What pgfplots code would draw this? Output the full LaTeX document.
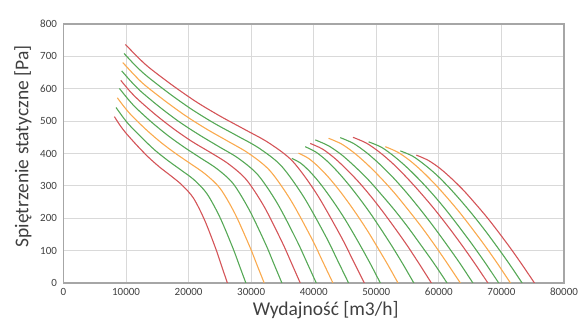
\documentclass[border=0pt]{standalone}
\usepackage{pgfplots}
\pgfplotsset{compat=1.18}
\usepackage{fontspec}
\setmainfont{Carlito}
\definecolor{cR}{RGB}{212,84,88}
\definecolor{cG}{RGB}{86,168,86}
\definecolor{cO}{RGB}{250,170,78}
\definecolor{gridc}{RGB}{217,217,217}
\definecolor{framec}{RGB}{166,166,166}
\definecolor{txt}{RGB}{64,64,64}
\begin{document}
\begin{tikzpicture}[x=1pt,y=1pt]
\path[use as bounding box] (0,0) rectangle (579,329);
\begin{axis}[
  at={(63.5pt,46pt)}, anchor=south west,
  scale only axis, width=500.5pt, height=259pt,
  xmin=0, xmax=80000, ymin=0, ymax=800,
  xtick={0,10000,...,80000}, ytick={0,100,...,800},
  major tick length=0pt,
  scaled x ticks=false,
  /pgf/number format/assume math mode=true,
  xticklabel={\pgfmathprintnumber[fixed,1000 sep={}]{\tick}},
  yticklabel={\pgfmathprintnumber[fixed,1000 sep={}]{\tick}},
  tick label style={font=\fontsize{11}{12}\selectfont, text=txt},
  xticklabel style={yshift=-1.5pt},
  yticklabel style={xshift=-3pt},
  grid=major,
  grid style={gridc, line width=1pt},
  axis line style={framec, line width=1.3pt},
  xlabel={Wydajność [m3/h]},
  ylabel={Spiętrzenie statyczne [Pa]},
  label style={font=\fontsize{19.5}{20}\selectfont, text=txt},
  xlabel style={at={(axis description cs:0.524,0)}, anchor=center, yshift=-27.5pt},
  ylabel style={at={(axis description cs:0,0.527)}, anchor=center, yshift=40.5pt},
  every axis plot/.append style={smooth, line width=1.1pt, no marks},
]
% left family
\addplot[cR] coordinates {(8130,514)(9034,487)(9937,464)(11744,425)(13551,389)(15358,358)(17165,331)(18972,302)(20779,262)(22586,193)(24393,103)(25297,51)(26200,0)};
\addplot[cG] coordinates {(8400,542)(9438,514)(10475,489)(12550,448)(14625,410)(16700,378)(18775,349)(20850,319)(22925,276)(25000,203)(27075,108)(28113,54)(29150,0)};
\addplot[cO] coordinates {(8610,572)(9784,542)(10957,516)(13304,472)(15651,433)(17998,399)(20345,368)(22692,336)(25039,292)(27386,215)(29733,114)(30907,57)(32080,0)};
\addplot[cG] coordinates {(8930,601)(10229,570)(11528,542)(14126,496)(16724,455)(19322,419)(21920,386)(24518,353)(27116,307)(29714,225)(32312,120)(33611,60)(34910,0)};
\addplot[cR] coordinates {(9150,626)(10585,593)(12019,565)(14888,517)(17757,474)(20626,436)(23495,403)(26364,368)(29233,319)(32102,235)(34971,125)(36406,63)(37840,0)};
\addplot[cG] coordinates {(9310,655)(10865,621)(12419,591)(15528,541)(18637,496)(21746,457)(24855,421)(27964,385)(31073,334)(34182,246)(37291,131)(38846,66)(40400,0)};
\addplot[cO] coordinates {(9470,681)(11150,646)(12830,614)(16190,563)(19550,516)(22910,475)(26270,438)(29630,400)(32990,347)(36350,255)(39710,136)(41390,68)(43070,0)};
\addplot[cG] coordinates {(9680,709)(11475,672)(13269,640)(16858,586)(20447,537)(24036,494)(27625,456)(31214,417)(34803,362)(38392,266)(41981,142)(43776,71)(45570,0)};
\addplot[cR] coordinates {(9890,737)(11800,699)(13709,665)(17528,609)(21347,558)(25166,514)(28985,474)(32804,433)(36623,376)(40442,276)(44261,147)(46171,74)(48080,0)};
% right family
\addplot[cG] coordinates {(36510,385)(37923,370)(39336,345)(40749,314)(42162,278)(43575,239)(44988,197)(46401,151)(47814,103)(49227,53)(50640,0)};
\addplot[cO] coordinates {(37570,401)(39160,385)(40750,359)(42340,327)(43930,290)(45520,249)(47110,205)(48700,158)(50290,107)(51880,55)(53470,0)};
\addplot[cG] coordinates {(38640,421)(40376,404)(42112,377)(43848,343)(45584,304)(47320,261)(49056,215)(50792,165)(52528,113)(54264,58)(56000,0)};
\addplot[cR] coordinates {(39440,431)(41376,414)(43312,386)(45248,351)(47184,312)(49120,268)(51056,220)(52992,169)(54928,116)(56864,59)(58800,0)};
\addplot[cG] coordinates {(40240,442)(42347,424)(44454,396)(46561,360)(48668,320)(50775,274)(52882,226)(54989,174)(57096,118)(59203,61)(61310,0)};
\addplot[cO] coordinates {(42370,447)(44477,429)(46584,400)(48691,364)(50798,323)(52905,278)(55012,228)(57119,176)(59226,120)(61333,61)(63440,0)};
\addplot[cG] coordinates {(44240,449)(46360,431)(48480,402)(50600,366)(52720,325)(54840,279)(56960,229)(59080,176)(61200,120)(63320,62)(65440,0)};
\addplot[cR] coordinates {(46270,450)(48427,432)(50584,403)(52741,367)(54898,325)(57055,279)(59212,230)(61369,177)(63526,121)(65683,62)(67840,0)};
\addplot[cG] coordinates {(48770,436)(50850,419)(52930,390)(55010,355)(57090,315)(59170,271)(61250,223)(63330,171)(65410,117)(67490,60)(69570,0)};
\addplot[cO] coordinates {(51440,421)(53440,404)(55440,377)(57440,343)(59440,304)(61440,261)(63440,215)(65440,165)(67440,113)(69440,58)(71440,0)};
\addplot[cG] coordinates {(53840,408)(55787,392)(57734,365)(59681,333)(61628,295)(63575,253)(65522,208)(67469,160)(69416,109)(71363,56)(73310,0)};
\addplot[cR] coordinates {(56400,395)(58288,379)(60176,354)(62064,322)(63952,286)(65840,245)(67728,202)(69616,155)(71504,106)(73392,54)(75280,0)};
\end{axis}
\end{tikzpicture}
\end{document}
